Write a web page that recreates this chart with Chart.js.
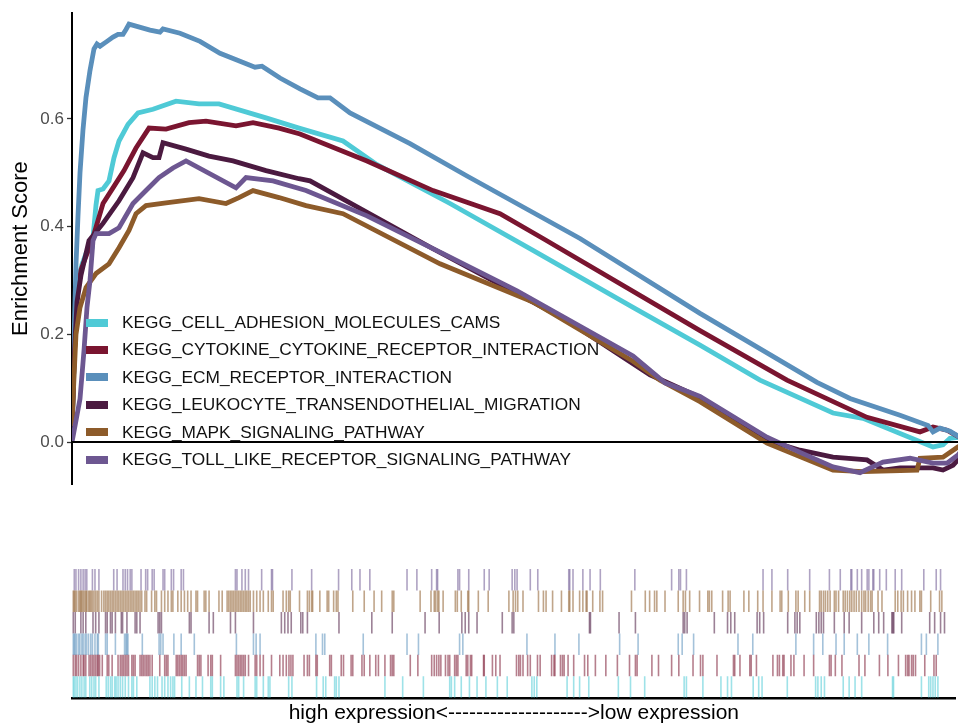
<!DOCTYPE html>
<html>
<head>
<meta charset="utf-8">
<script src="https://cdn.jsdelivr.net/npm/chart.js@4.4.1/dist/chart.umd.min.js"></script>
<style>
  html, body { margin: 0; padding: 0; background: #ffffff; }
  #wrap { position: relative; width: 958px; height: 723px; overflow: hidden;
          font-family: 'Liberation Sans', Arial, sans-serif; background: #ffffff; }
  #es  { position: absolute; left: 0; top: 0; }
  #rug { position: absolute; left: 0; top: 540px; }
  #legend { position: absolute; left: 86px; top: 309px; }
  .row { display: flex; align-items: center; height: 27.4px; }
  .sw  { width: 22px; height: 8px; margin-right: 14px; flex: none; }
  .lb  { font-size: 17.3px; color: #111111; white-space: nowrap; line-height: 1; }
</style>
</head>
<body>
<div id="wrap">
  <canvas id="es" width="968" height="500"></canvas>
  <canvas id="rug" width="968" height="183"></canvas>
  <div id="legend"></div>
</div>
<script>
// Ranked gene list length (x axis runs over gene rank)
const N_GENES = 8960;

const setNames = [
  'KEGG_CELL_ADHESION_MOLECULES_CAMS',
  'KEGG_CYTOKINE_CYTOKINE_RECEPTOR_INTERACTION',
  'KEGG_ECM_RECEPTOR_INTERACTION',
  'KEGG_LEUKOCYTE_TRANSENDOTHELIAL_MIGRATION',
  'KEGG_MAPK_SIGNALING_PATHWAY',
  'KEGG_TOLL_LIKE_RECEPTOR_SIGNALING_PATHWAY'
];
const setColors = ['#4FCAD6', '#7A1530', '#5A8FBB', '#4B1A40', '#8D5B2A', '#6D5791'];

// Running enrichment score for each set: rank positions and score values
const cellRank = [0,30,60,100,140,200,240,260,310,370,420,470,560,660,810,1040,1270,1470,1940,2270,2710,3050,3780,4610,5610,6280,6880,7610,7910,8610,8710,8780,8860,8960];
const cellES   = [0.02,0.2,0.3,0.33,0.35,0.36,0.44,0.467,0.47,0.485,0.528,0.559,0.59,0.611,0.618,0.633,0.628,0.628,0.602,0.583,0.559,0.515,0.443,0.356,0.25,0.18,0.115,0.054,0.044,-0.009,-0.005,0.007,0.009,0.0];

const cytoRank = [0,20,50,90,150,210,310,410,520,640,770,940,1170,1340,1640,1810,2070,2280,2950,3610,4280,4710,6280,7150,7950,8480,8610,8750,8960];
const cytoES   = [0.02,0.15,0.27,0.32,0.35,0.38,0.443,0.472,0.504,0.546,0.583,0.581,0.593,0.596,0.587,0.593,0.583,0.572,0.522,0.467,0.424,0.378,0.207,0.115,0.046,0.019,0.028,0.022,0.0];

const ecmRank = [0,20,40,60,80,110,140,180,220,250,280,350,410,460,510,540,570,780,880,910,1080,1280,1480,1680,1830,1900,2080,2280,2460,2580,2780,3380,3950,5080,6280,7450,7780,8280,8560,8610,8680,8780,8960];
const ecmES   = [0.04,0.19,0.33,0.42,0.5,0.58,0.64,0.69,0.73,0.739,0.735,0.744,0.752,0.757,0.757,0.766,0.776,0.765,0.761,0.767,0.759,0.744,0.722,0.707,0.696,0.698,0.676,0.656,0.639,0.639,0.611,0.554,0.494,0.378,0.239,0.111,0.081,0.05,0.031,0.019,0.026,0.02,0.0];

const leukRank = [0,20,50,90,140,170,310,470,610,710,810,870,910,1140,1370,1610,1940,2270,2380,3610,4950,5780,6280,7010,7280,7610,7950,8110,8280,8610,8710,8810,8860,8960];
const leukES   = [0.02,0.15,0.26,0.31,0.35,0.374,0.406,0.448,0.491,0.537,0.528,0.528,0.556,0.544,0.531,0.522,0.504,0.489,0.485,0.359,0.226,0.125,0.083,0.0,-0.015,-0.028,-0.033,-0.052,-0.048,-0.048,-0.052,-0.043,-0.033,0.0];

const mapkRank = [0,20,40,80,140,240,370,470,570,640,740,940,1270,1540,1670,1810,2070,2340,2710,3680,4610,5610,5880,6280,6950,7610,7910,8450,8480,8710,8860,8960];
const mapkES   = [0.03,0.12,0.2,0.25,0.287,0.313,0.331,0.361,0.393,0.424,0.439,0.444,0.452,0.443,0.454,0.467,0.454,0.439,0.424,0.331,0.26,0.15,0.115,0.075,-0.002,-0.052,-0.055,-0.052,-0.03,-0.028,-0.009,0.0];

const tollRank = [0,40,80,120,150,180,210,240,370,470,610,740,870,1010,1140,1640,1740,2010,2340,2950,3710,4450,5610,5930,6280,6950,7280,7610,7880,8110,8380,8610,8750,8860,8960];
const tollES   = [0.0,0.04,0.08,0.17,0.25,0.3,0.374,0.387,0.387,0.398,0.443,0.467,0.491,0.509,0.522,0.472,0.491,0.485,0.467,0.42,0.35,0.281,0.16,0.11,0.085,0.009,-0.019,-0.046,-0.057,-0.037,-0.03,-0.039,-0.039,-0.024,0.0];

// Ranks of the member genes of each set (barcode rows)
const cellHits = [13,23,40,57,80,100,123,140,180,200,223,240,273,347,367,390,407,433,447,467,490,513,540,573,607,623,657,790,813,840,867,913,940,973,1000,1023,1040,1113,1190,1257,1323,1407,1423,1507,1540,1673,1690,1740,1857,1873,1940,1990,2007,2197,2230,2480,2547,2573,2663,2680,2707,3173,3353,3563,3830,3847,3880,3947,4030,4107,4197,4313,4413,4663,4687,4713,5020,5087,5147,5240,5540,5663,5807,6207,6230,6397,6580,6647,6687,6907,6963,6997,7253,7540,7563,7597,7630,7820,7880,7940,8007,8320,8330,8613,8687,8707,8730,8753,8780];
const cytoHits = [13,33,47,67,90,113,123,140,173,190,207,223,240,257,267,280,307,357,373,407,467,490,507,523,540,557,573,607,623,640,690,707,723,740,757,773,790,813,890,940,957,973,1057,1073,1090,1107,1123,1140,1157,1273,1290,1307,1380,1407,1423,1507,1657,1673,1690,1707,1723,1740,1757,1790,1857,1873,1907,1940,2023,2107,2140,2173,2200,2220,2240,2353,2387,2407,2473,2487,2613,2630,2730,2753,2830,2847,2940,2963,3020,3080,3107,3173,3230,3247,3263,3430,3507,3647,3673,3697,3720,3740,3787,3813,3830,3880,3897,3913,3997,4013,4040,4053,4173,4180,4263,4297,4340,4507,4530,4547,4573,4620,4647,4720,4747,4863,4887,4897,4953,4973,4990,5030,5087,5197,5230,5307,5413,5530,5653,5713,5730,5880,5947,6080,6153,6297,6373,6397,6540,6707,6720,6773,6873,6887,6940,7107,7153,7173,7207,7220,7290,7320,7423,7520,7680,7697,7740,7807,7980,8040,8187,8273,8380,8453,8473,8487,8513,8530,8553,8647,8740,8763];
const ecmHits = [13,23,33,47,67,80,100,113,133,147,167,190,207,233,257,267,340,357,440,533,547,557,567,713,883,900,923,1033,1107,1240,1667,1840,1867,1907,2473,2540,2563,2953,3397,3513,3930,3963,4613,4897,5140,5553,5740,6147,6187,6303,6753,6903,7340,7520,7613,7747,7830,7963,8080,8270,8613,8663,8780];
const leukHits = [13,33,90,113,140,213,240,273,340,357,390,407,440,500,513,557,640,657,690,873,890,907,1190,1207,1390,1433,1607,1657,1840,2123,2157,2190,2223,2320,2340,2387,2707,3040,3247,3580,3723,3953,3987,4023,4107,4363,4463,4480,5247,5257,5547,5713,6197,6213,6237,6513,6647,6680,6720,6947,6973,7013,7257,7330,7353,7380,7547,7573,7597,7620,7730,7830,7880,8007,8130,8180,8230,8313,8323,8333,8413,8697,8747,8807,8847];
const mapkHits = [13,23,33,47,67,80,90,100,113,127,140,150,167,180,193,207,223,240,257,273,300,323,340,357,373,390,407,423,440,457,473,490,507,523,540,557,573,590,607,623,640,657,673,690,707,740,757,807,840,857,907,940,973,1007,1023,1073,1107,1140,1173,1207,1257,1273,1340,1357,1390,1490,1523,1573,1590,1607,1623,1640,1657,1673,1690,1707,1723,1740,1757,1773,1790,1807,1840,1873,1907,1940,1990,2023,2040,2140,2173,2197,2213,2307,2387,2407,2430,2440,2513,2587,2603,2653,2680,2697,2847,2963,3063,3140,3247,3263,3530,3640,3673,3687,3707,3720,3763,3887,3907,3947,4013,4023,4120,4220,4430,4473,4497,4520,4573,4730,4780,4807,4873,4963,5037,5047,5080,5147,5180,5213,5223,5280,5353,5380,5673,5813,5857,5907,5930,6013,6147,6197,6220,6263,6363,6447,6463,6487,6597,6653,6673,6813,6863,6953,7007,7097,7180,7197,7263,7340,7363,7430,7480,7580,7597,7620,7640,7663,7687,7730,7747,7773,7820,7840,7863,7887,7907,7930,7953,7980,8007,8030,8047,8073,8097,8113,8173,8213,8347,8373,8407,8430,8473,8513,8547,8597,8613,8707,8797,8820];
const tollHits = [23,40,67,90,113,133,150,207,233,273,423,457,517,540,563,590,607,700,747,767,813,833,923,940,1007,1030,1107,1130,1657,1673,1723,1757,1790,1923,2023,2033,2230,2430,2703,2837,2920,3020,3397,3497,3647,3697,3707,3913,3930,4023,4180,4230,4463,4490,4513,4647,4723,5037,5047,5080,5180,5253,5357,5707,6080,6153,6170,6230,7007,7097,7257,7480,7680,7790,7897,7907,7963,8007,8063,8080,8120,8130,8190,8257,8347,8413,8637,8763,8807];

// Axis settings
const esTicks = [0, 0.2, 0.4, 0.6];
const esMin = -0.0778;
const esMax = 0.7963;
const xTitle = 'high expression<-------------------->low expression';

Chart.defaults.font.family = "'Liberation Sans', Arial, sans-serif";
Chart.defaults.animation = false;

const curves = [[cellRank, cellES], [cytoRank, cytoES], [ecmRank, ecmES],
                [leukRank, leukES], [mapkRank, mapkES], [tollRank, tollES]];
const hits = [cellHits, cytoHits, ecmHits, leukHits, mapkHits, tollHits];

function fade(hex, a) {
  const n = parseInt(hex.slice(1), 16);
  return `rgba(${(n >> 16) & 255},${(n >> 8) & 255},${n & 255},${a})`;
}

// Enrichment score curves; later sets are drawn on top, the zero line above all
const esDatasets = setNames.map((name, i) => ({
  label: name,
  data: curves[i][0].map((r, k) => ({ x: r, y: curves[i][1][k] })),
  borderColor: setColors[i],
  backgroundColor: setColors[i],
  borderWidth: 4.8,
  pointRadius: 0,
  tension: 0,
  fill: false,
  order: setNames.length - i
}));
esDatasets.push({
  label: 'baseline',
  data: [{ x: 0, y: 0 }, { x: N_GENES, y: 0 }],
  borderColor: '#000000',
  borderWidth: 2,
  pointRadius: 0,
  order: 0
});

new Chart(document.getElementById('es'), {
  type: 'line',
  data: { datasets: esDatasets },
  options: {
    responsive: false,
    events: [],
    layout: { padding: { top: 12, bottom: 16, left: 0, right: 0 } },
    plugins: { legend: { display: false }, tooltip: { enabled: false } },
    scales: {
      x: { type: 'linear', min: 0, max: N_GENES, display: false },
      y: {
        type: 'linear', min: esMin, max: esMax,
        afterFit: s => { s.width = 72; },
        afterBuildTicks: s => { s.ticks = esTicks.map(v => ({ value: v })); },
        border: { display: true, color: '#000000', width: 2 },
        grid: { drawOnChartArea: false, drawTicks: true, tickLength: 5, tickColor: '#333333', tickWidth: 1.3 },
        ticks: { color: '#4D4D4D', font: { size: 17 }, padding: 3, callback: v => v.toFixed(1) },
        title: { display: true, text: 'Enrichment Score', color: '#000000', font: { size: 22 }, padding: { top: 8, bottom: 0 } }
      }
    }
  }
});

// Barcode rows: TOLL on top, CELL at the bottom
const rugDatasets = setNames.map((name, i) => ({
  label: name,
  data: hits[i].map(r => ({ x: r, y: i + 0.5 })),
  showLine: false,
  pointStyle: 'line',
  pointRotation: 90,
  pointRadius: 10.75,
  pointBorderWidth: 1.6,
  pointBorderColor: fade(setColors[i], 0.55),
  pointBackgroundColor: fade(setColors[i], 0.55)
}));

new Chart(document.getElementById('rug'), {
  type: 'scatter',
  data: { datasets: rugDatasets },
  options: {
    responsive: false,
    events: [],
    layout: { padding: { top: 29, bottom: 0, left: 72, right: 0 } },
    plugins: { legend: { display: false }, tooltip: { enabled: false } },
    scales: {
      x: {
        type: 'linear', min: 0, max: N_GENES,
        grid: { display: false, drawTicks: false },
        ticks: { display: false },
        border: { display: true, color: '#000000', width: 2.5 },
        title: { display: true, text: xTitle, color: '#000000', font: { size: 21 }, padding: { top: 3, bottom: -3 } }
      },
      y: { type: 'linear', min: 0, max: 6, display: false }
    }
  }
});

// Legend
const legend = document.getElementById('legend');
setNames.forEach((name, i) => {
  const row = document.createElement('div');
  row.className = 'row';
  const sw = document.createElement('span');
  sw.className = 'sw';
  sw.style.background = setColors[i];
  const lb = document.createElement('span');
  lb.className = 'lb';
  lb.textContent = name;
  row.appendChild(sw);
  row.appendChild(lb);
  legend.appendChild(row);
});
</script>
</body>
</html>
